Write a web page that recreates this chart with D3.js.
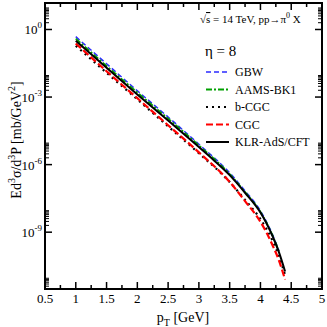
<!DOCTYPE html>
<html>
<head>
<meta charset="utf-8">
<script src="https://cdn.jsdelivr.net/npm/d3@7"></script>
<style>
  body { margin: 0; background: #fff; }
  text { font-family: "Liberation Serif", "DejaVu Serif", serif; fill: #000; }
</style>
</head>
<body>
<svg id="chart" width="327" height="327"></svg>
<script>
// pT values (GeV) for each model
var ptKLR  = [1.0, 1.5, 2.0, 2.5, 3.0, 3.25, 3.5, 3.75, 4.0, 4.1, 4.2, 4.3, 4.4];
var klr    = [3.2e-1, 2.0e-2, 1.3e-3, 9.1e-5, 6.0e-6, 1.5e-6, 3.4e-7, 5.6e-8, 7.4e-9, 2.4e-9, 6.3e-10, 1.3e-10, 1.8e-11];
var ptGBW  = [1.0, 1.5, 2.0, 2.5, 3.0, 3.5, 3.75, 4.0, 4.2, 4.3];
var gbw    = [4.8e-1, 3.0e-2, 1.9e-3, 1.3e-4, 8.0e-6, 4.3e-7, 6.8e-8, 8.9e-9, 7.4e-10, 1.5e-10];
var ptAAMS = [1.0, 1.5, 2.0, 2.5, 3.0, 3.5, 3.75, 4.0, 4.2, 4.3];
var aams   = [3.9e-1, 2.4e-2, 1.6e-3, 1.1e-4, 7.1e-6, 3.8e-7, 6.0e-8, 7.9e-9, 6.8e-10, 1.4e-10];
var ptCGC  = [1.0, 1.5, 2.0, 2.5, 3.0, 3.5, 3.75, 4.0, 4.1, 4.2, 4.3, 4.4];
var cgc    = [2.4e-1, 1.4e-2, 8.9e-4, 5.6e-5, 3.5e-6, 1.7e-7, 2.4e-8, 2.9e-9, 9.5e-10, 2.5e-10, 5.6e-11, 7.9e-12];
var ptBCGC = [1.0, 1.5, 2.0, 2.5, 3.0, 3.5, 3.75, 4.0, 4.2, 4.3, 4.4];
var bcgc   = [1.9e-1, 1.2e-2, 7.9e-4, 5.0e-5, 3.2e-6, 1.7e-7, 2.7e-8, 3.8e-9, 4.0e-10, 8.9e-11, 1.26e-11];

var xTicks = [0.5, 1, 1.5, 2, 2.5, 3, 3.5, 4, 4.5, 5];
var yTickExp = [0, -3, -6, -9];
var legendNames = ["GBW", "AAMS-BK1", "b-CGC", "CGC", "KLR-AdS/CFT"];

var svg = d3.select("#chart");
var pLeft = 45, pRight = 322, pTop = 3, pBottom = 289;

var x = d3.scaleLinear().domain([0.5, 5]).range([pLeft, pRight]);
var y = d3.scaleLog().domain([3e-12, 15]).range([pBottom, pTop]);

// series styles
var series = [
  {name: "GBW", pt: ptGBW, v: gbw, color: "#2b2bff", width: 1.5, dash: "5,3"},
  {name: "AAMS-BK1", pt: ptAAMS, v: aams, color: "#00a000", width: 1.8, dash: "6,2,2,2"},
  {name: "b-CGC", pt: ptBCGC, v: bcgc, color: "#000", width: 2.2, dash: "2,4"},
  {name: "CGC", pt: ptCGC, v: cgc, color: "#ff0000", width: 2.2, dash: "7,3"},
  {name: "KLR-AdS/CFT", pt: ptKLR, v: klr, color: "#000", width: 2, dash: null}
];

var line = d3.line()
  .x(function (d) { return x(d[0]); })
  .y(function (d) { return y(d[1]); })
  .curve(d3.curveMonotoneX);

var g = svg.append("g");
series.forEach(function (s) {
  g.append("path")
    .datum(s.pt.map(function (p, i) { return [p, s.v[i]]; }))
    .attr("d", line)
    .attr("fill", "none")
    .attr("stroke", s.color)
    .attr("stroke-width", s.width)
    .attr("stroke-dasharray", s.dash);
});

// ticks (inward on all four sides)
var minorX = d3.range(0.75, 5, 0.5);
var ax = svg.append("g").attr("stroke", "#000").attr("stroke-width", 1.5);
xTicks.forEach(function (t) {
  ax.append("line").attr("x1", x(t)).attr("x2", x(t)).attr("y1", pBottom).attr("y2", pBottom - 7);
  ax.append("line").attr("x1", x(t)).attr("x2", x(t)).attr("y1", pTop).attr("y2", pTop + 7);
});
minorX.forEach(function (t) {
  ax.append("line").attr("x1", x(t)).attr("x2", x(t)).attr("y1", pBottom).attr("y2", pBottom - 4);
  ax.append("line").attr("x1", x(t)).attr("x2", x(t)).attr("y1", pTop).attr("y2", pTop + 4);
});
var majorY = [0, -3, -6, -9, -12];
majorY.forEach(function (e) {
  var v = Math.pow(10, e);
  if (v >= y.domain()[0]) {
    ax.append("line").attr("x1", pLeft).attr("x2", pLeft + 7).attr("y1", y(v)).attr("y2", y(v));
    ax.append("line").attr("x1", pRight).attr("x2", pRight - 7).attr("y1", y(v)).attr("y2", y(v));
  }
  d3.range(2, 10).forEach(function (m) {
    var mv = m * v;
    if (mv >= y.domain()[0] && mv <= y.domain()[1]) {
      ax.append("line").attr("x1", pLeft).attr("x2", pLeft + 4).attr("y1", y(mv)).attr("y2", y(mv)).attr("stroke-width", 1);
      ax.append("line").attr("x1", pRight).attr("x2", pRight - 4).attr("y1", y(mv)).attr("y2", y(mv)).attr("stroke-width", 1);
    }
  });
});

// frame
svg.append("rect")
  .attr("x", pLeft).attr("y", pTop)
  .attr("width", pRight - pLeft).attr("height", pBottom - pTop)
  .attr("fill", "none").attr("stroke", "#000").attr("stroke-width", 2);

// x tick labels
xTicks.forEach(function (t) {
  svg.append("text").attr("x", x(t)).attr("y", 303)
    .attr("text-anchor", "middle").attr("font-size", 13)
    .text(t);
});

// y tick labels
yTickExp.forEach(function (e) {
  var t = svg.append("text").attr("x", 42).attr("y", y(Math.pow(10, e)) + 5)
    .attr("text-anchor", "end").attr("font-size", 13);
  t.append("tspan").text("10");
  t.append("tspan").attr("dy", -6).attr("font-size", 9).text(e === 0 ? "0" : "-" + (-e));
});

// axis titles
var xl = svg.append("text").attr("x", 183).attr("y", 322)
  .attr("text-anchor", "middle").attr("font-size", 14);
xl.append("tspan").text("p");
xl.append("tspan").attr("dy", 4).attr("font-size", 10).text("T");
xl.append("tspan").attr("dy", -4).text(" [GeV]");

var yl = svg.append("text")
  .attr("transform", "translate(21,140) rotate(-90)")
  .attr("text-anchor", "middle").attr("font-size", 14);
yl.append("tspan").text("Ed");
yl.append("tspan").attr("dy", -6).attr("font-size", 10).text("3");
yl.append("tspan").attr("dy", 6).text("\u03c3/d");
yl.append("tspan").attr("dy", -6).attr("font-size", 10).text("3");
yl.append("tspan").attr("dy", 6).text("P [mb/GeV");
yl.append("tspan").attr("dy", -6).attr("font-size", 10).text("2");
yl.append("tspan").attr("dy", 6).text("]");

// annotation
var ann = svg.append("text").attr("x", 200).attr("y", 23).attr("font-size", 11);
ann.append("tspan").text("\u221a");
ann.append("tspan").attr("text-decoration", "overline").text("s");
ann.append("tspan").text(" = 14 TeV, pp\u2192\u03c0");
ann.append("tspan").attr("dy", -5).attr("font-size", 8).text("0");
ann.append("tspan").attr("dy", 5).text(" X");

svg.append("text").attr("x", 205).attr("y", 56).attr("font-size", 15).text("\u03b7 = 8");

// legend
var leg = svg.append("g");
series.forEach(function (s, i) {
  var ly = 72 + i * 17.5;
  leg.append("line").attr("x1", 206).attr("x2", 229).attr("y1", ly).attr("y2", ly)
    .attr("stroke", s.color).attr("stroke-width", s.width).attr("stroke-dasharray", s.dash);
  leg.append("text").attr("x", 235).attr("y", ly + 4).attr("font-size", 12).text(legendNames[i]);
});
</script>
</body>
</html>
